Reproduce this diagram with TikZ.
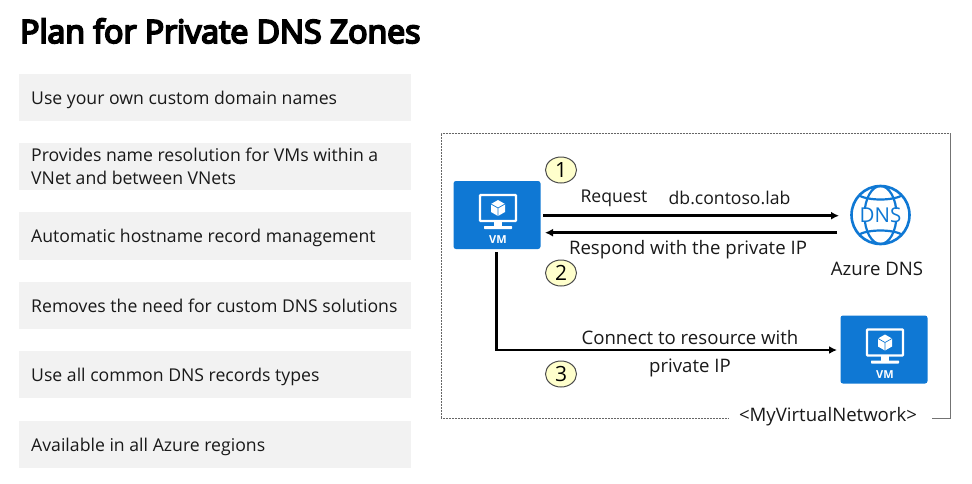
\documentclass[tikz,border=0pt]{standalone}
\usepackage{fontspec}
\setmainfont{Open Sans}
\newfontfamily\titlefont[FakeBold=6]{Open Sans}
\usetikzlibrary{arrows.meta,calc,shapes.geometric}
\definecolor{azure}{HTML}{0F78D4}
\definecolor{rowgrey}{HTML}{F2F2F2}
\definecolor{badge}{HTML}{FFFFCC}
\tikzset{
  x=1pt,y=-1pt,
  rowbox/.style={fill=rowgrey,minimum width=392pt,minimum height=47pt,anchor=north west,inner sep=0pt},
  rowtext/.style={anchor=base west,inner sep=0pt,align=left,font=\fontsize{17.65}{23.3}\selectfont,text=black!90},
  vmbox/.style={fill=azure,rounded corners=2.5pt,minimum width=87pt,minimum height=68pt,inner sep=0pt},
  badgenode/.style={draw=black!70,line width=1pt,fill=badge,ellipse,minimum width=31pt,minimum height=26pt,inner sep=0pt,font=\fontsize{21}{21}\selectfont},
  flow/.style={line width=2.6pt,-{Latex[length=8pt,width=8pt]}},
  lbl/.style={font=\fontsize{17.6}{23}\selectfont,inner sep=0pt,align=center,text=black!90},
  widelbl/.style={lbl,font=\fontsize{18.6}{28}\selectfont},
  vmicon/.pic={
    \draw[white,line width=2.4pt,rounded corners=0.8pt] (-18,-20) rectangle (18,6);
    \fill[white] (-4,6) rectangle (4,12);
    \fill[white,rounded corners=0.6pt] (-14,11) rectangle (14,14);
    \fill[white] (0,-15) -- (7,-11) -- (7,-3) -- (0,1) -- (-7,-3) -- (-7,-11) -- cycle;
    \draw[azure,line width=0.7pt] (-7,-11) -- (0,-7) -- (7,-11) (0,-7) -- (0,1);
    \node[white,font=\bfseries\fontsize{11}{11}\selectfont,inner sep=0pt] at (0,25) {VM};
  }
}
\begin{document}
\begin{tikzpicture}
\useasboundingbox (0,0) rectangle (972,483);
\fill[white] (0,0) rectangle (972,483);
\node[anchor=base west,inner sep=0pt,font=\fontsize{32}{32}\titlefont] (title) at (20,43) {Plan for Private DNS Zones};

\node[rowbox] (r1) at (19,74) {};
\node[rowbox] (r2) at (19,143) {};
\node[rowbox,minimum height=48pt] (r3) at (19,212) {};
\node[rowbox] (r4) at (19,282) {};
\node[rowbox] (r5) at (19,351) {};
\node[rowbox] (r6) at (19,421) {};
\node[rowtext] (t1) at (31,104) {Use your own custom domain names};
\node[rowtext,anchor=west] (t2) at (31,166.5) {Provides name resolution for VMs within a\\VNet and between VNets};
\node[rowtext] (t3) at (31,242) {Automatic hostname record management};
\node[rowtext] (t4) at (31,312) {Removes the need for custom DNS solutions};
\node[rowtext] (t5) at (31,381) {Use all common DNS records types};
\node[rowtext] (t6) at (31,451) {Available in all Azure regions};

\node[draw=black!60,line width=0.8pt,dash pattern=on 1pt off 0.5pt,minimum width=509pt,minimum height=285pt,inner sep=0pt,anchor=north west] (frame) at (441,133) {};
\draw[black!55,line width=0.8pt] (frame.north east) -- (frame.south east) -- ++(-30,0);
\node[fill=white,minimum width=203pt,minimum height=20pt,inner sep=0pt,font=\fontsize{18.6}{20}\selectfont,text=black!90] (netlabel) at (830.5,417) {\hspace{-5pt}<MyVirtualNetwork>};

\node[vmbox] (vma) at (497,215) {};
\pic at ([xshift=1pt]vma.center) {vmicon};
\node[vmbox] (vmb) at (884,349.5) {};
\pic at ([xshift=1pt]vmb.center) {vmicon};

\node[circle,draw=azure,line width=2.6pt,minimum size=58pt,inner sep=0pt] (dns) at (880.5,215) {};
\begin{scope}
\clip (dns.center) circle (29pt);
\draw[azure,line width=2.2pt] (dns.center) ellipse (16 and 29);
\draw[azure,line width=2.2pt] (858,195) .. controls (868,201) and (893,201) .. (903,195);
\draw[azure,line width=2.2pt] (858,235) .. controls (868,229) and (893,229) .. (903,235);
\end{scope}
\node[fill=white,inner xsep=1pt,inner ysep=-2pt,font=\fontsize{20.5}{20.5}\selectfont,text=azure] (dnstext) at (dns.center) {DNS};
\node[widelbl] (dnslabel) at (877,269) {Azure DNS};

\coordinate (reqa) at (543,215.7);
\coordinate (reqb) at (839,215.7);
\coordinate (respa) at (837,232.7);
\coordinate (respb) at (545,232.7);
\coordinate (downa) at (496.7,252);
\coordinate (bend) at (496.7,350);
\coordinate (downb) at (837,350);
\draw[flow] (reqa) -- (reqb);
\draw[flow] (respa) -- (respb);
\draw[flow] (downa) -- (bend) -- (downb);

\node[badgenode] (b1) at (561,170) {1};
\node[badgenode] (b2) at (561,273) {2};
\node[badgenode] (b3) at (561,374) {3};

\node[lbl] (req) at (614,198) {Request};
\node[lbl] (host) at (729.5,198) {db.contoso.lab};
\node[widelbl] (resp) at (688,250) {Respond with the private IP};
\node[widelbl] (conn) at (690,354) {Connect to resource with\\private IP};
\end{tikzpicture}
\end{document}
